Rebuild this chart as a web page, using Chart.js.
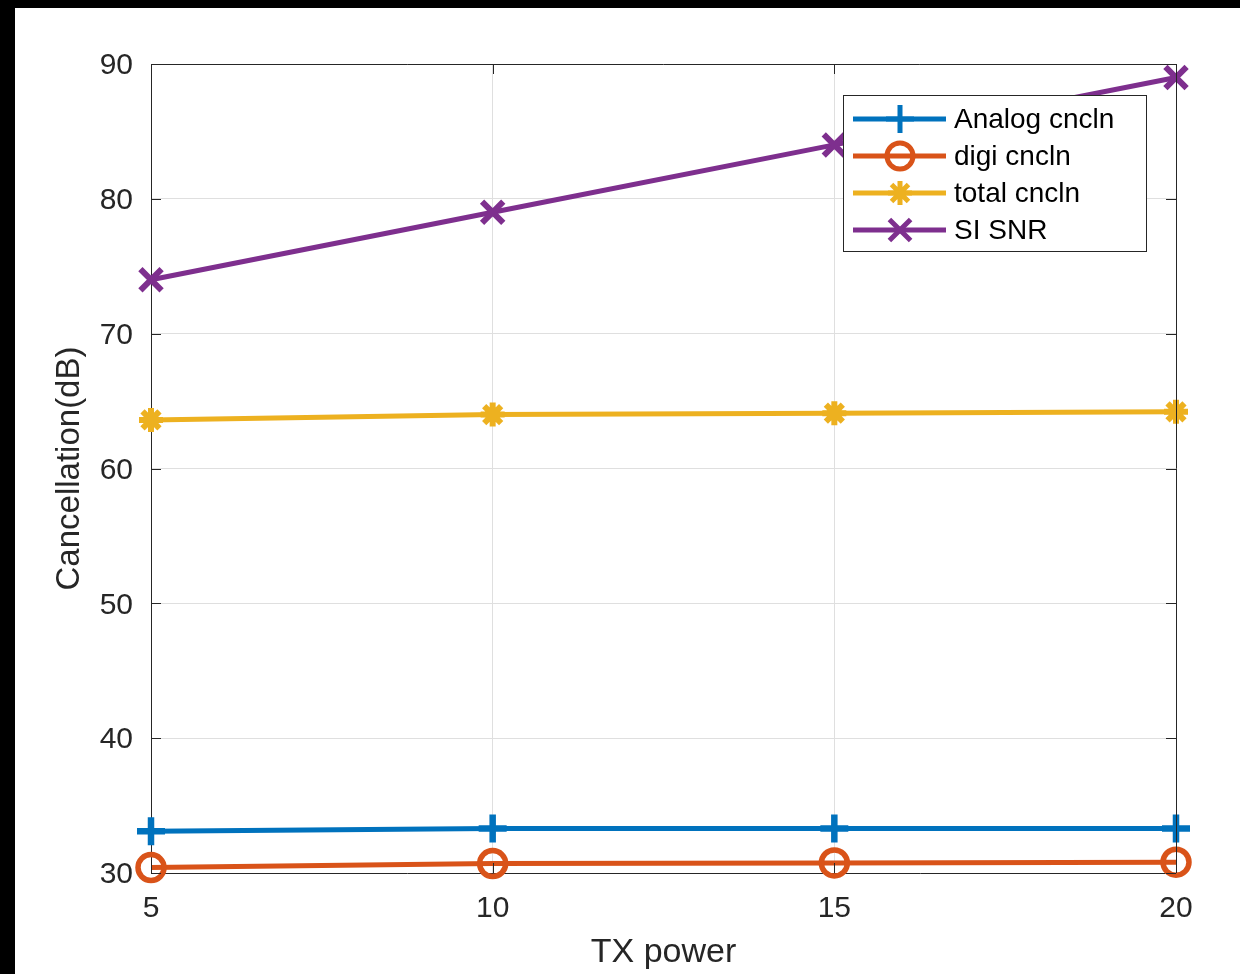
<!DOCTYPE html>
<html>
<head>
<meta charset="utf-8">
<script src="https://cdn.jsdelivr.net/npm/chart.js@4.4.1/dist/chart.umd.min.js"></script>
<style>
    html, body { margin: 0; padding: 0; background: #000; }
    #wrap { position: absolute; left: 15px; top: 8px; width: 1225px; height: 966px; background: #fff; }
</style>
</head>
<body>
<div id="wrap"><canvas id="cancelChart"></canvas></div>
<script>
// values
const txPower = [5, 10, 15, 20];
const analogCncln = [33.1, 33.3, 33.3, 33.3];
const digiCncln = [30.4, 30.7, 30.75, 30.8];
const totalCncln = [63.6, 64.0, 64.1, 64.2];
const siSnr = [74, 79, 84, 89];
const seriesNames = ['Analog cncln', 'digi cncln', 'total cncln', 'SI SNR'];
const yTicks = [30, 40, 50, 60, 70, 80, 90];

const axisColor = '#262626';
const fontFamily = '"Liberation Sans", Arial, Helvetica, sans-serif';

function toPoints(values) {
    return txPower.map((x, i) => ({ x: x, y: values[i] }));
}

function makeDataset(label, values, color, style, radius, markerWidth, order) {
    return {
        label: label,
        data: toPoints(values),
        borderColor: color,
        backgroundColor: color,
        borderWidth: 5,
        tension: 0,
        pointStyle: style,
        pointRadius: radius,
        pointHoverRadius: radius,
        pointBorderWidth: markerWidth,
        pointHoverBorderWidth: markerWidth,
        pointBorderColor: color,
        pointBackgroundColor: 'rgba(0,0,0,0)',
        clip: false,
        order: order
    };
}

// inward ticks on all four sides plus the top/right box
const boxTicks = {
    id: 'boxTicks',
    afterDraw(chart) {
        const { ctx, chartArea: a, scales } = chart;
        const len = 10;
        ctx.save();
        ctx.strokeStyle = axisColor;
        ctx.lineWidth = 1;
        ctx.beginPath();
        scales.x.ticks.forEach(t => {
            const px = Math.round(scales.x.getPixelForValue(t.value)) + 0.5;
            ctx.moveTo(px, a.bottom); ctx.lineTo(px, a.bottom - len);
            ctx.moveTo(px, a.top); ctx.lineTo(px, a.top + len);
        });
        scales.y.ticks.forEach(t => {
            const py = Math.round(scales.y.getPixelForValue(t.value)) + 0.5;
            ctx.moveTo(a.left, py); ctx.lineTo(a.left + len, py);
            ctx.moveTo(a.right, py); ctx.lineTo(a.right - len, py);
        });
        ctx.moveTo(a.left, a.top + 0.5); ctx.lineTo(a.right, a.top + 0.5);
        ctx.moveTo(a.right + 0.5, a.top); ctx.lineTo(a.right + 0.5, a.bottom);
        ctx.stroke();
        ctx.restore();
    }
};

// MATLAB-like legend box inside the axes, top right
const insideLegend = {
    id: 'insideLegend',
    afterDraw(chart) {
        const { ctx, chartArea: a } = chart;
        const boxW = 303, boxH = 156;
        const right = a.right - 30;
        const left = right - boxW;
        const top = a.top + 31;
        const rowH = 37;
        ctx.save();
        ctx.fillStyle = '#fff';
        ctx.fillRect(left, top, boxW, boxH);
        ctx.strokeStyle = axisColor;
        ctx.lineWidth = 1;
        ctx.strokeRect(left + 0.5, top + 0.5, boxW, boxH);
        ctx.font = '28px ' + fontFamily;
        ctx.textBaseline = 'middle';
        chart.data.datasets.forEach((ds, i) => {
            const y = top + 24 + i * rowH;
            ctx.strokeStyle = ds.borderColor;
            ctx.lineWidth = ds.borderWidth;
            ctx.beginPath();
            ctx.moveTo(left + 10, y);
            ctx.lineTo(left + 103, y);
            ctx.stroke();
            ctx.fillStyle = 'rgba(0,0,0,0)';
            Chart.helpers.drawPoint(ctx, {
                pointStyle: ds.pointStyle,
                radius: ds.pointRadius,
                borderWidth: ds.pointBorderWidth,
                rotation: 0
            }, left + 57, y);
            ctx.fillStyle = '#000';
            ctx.fillText(ds.label, left + 111, y + 1);
        });
        ctx.restore();
    }
};

const ctx = document.getElementById('cancelChart').getContext('2d');
new Chart(ctx, {
    type: 'line',
    data: {
        datasets: [
            makeDataset(seriesNames[0], analogCncln, '#0072BD', 'cross', 14, 6.5, 3),
            makeDataset(seriesNames[1], digiCncln, '#D95319', 'circle', 13, 5.5, 2),
            makeDataset(seriesNames[2], totalCncln, '#EDB120', 'star', 12, 6, 1),
            makeDataset(seriesNames[3], siSnr, '#7E2F8E', 'crossRot', 15, 6, 0)
        ]
    },
    options: {
        responsive: true,
        maintainAspectRatio: false,
        animation: false,
        layout: { padding: { left: 0, top: 56, right: 64, bottom: 0 } },
        scales: {
            x: {
                type: 'linear',
                min: 5,
                max: 20,
                afterBuildTicks: scale => { scale.ticks = txPower.map(v => ({ value: v })); },
                afterFit: scale => { scale.height = 101; },
                ticks: {
                    color: axisColor,
                    font: { family: fontFamily, size: 30 },
                    padding: 18,
                    maxRotation: 0
                },
                grid: { color: '#dfdfdf', lineWidth: 1, drawTicks: false },
                border: { color: axisColor, width: 1 },
                title: {
                    display: true,
                    text: 'TX power',
                    color: axisColor,
                    font: { family: fontFamily, size: 34 },
                    padding: { top: 0, bottom: 1 }
                }
            },
            y: {
                type: 'linear',
                min: 30,
                max: 90,
                afterBuildTicks: scale => { scale.ticks = yTicks.map(v => ({ value: v })); },
                afterFit: scale => { scale.width = 136; },
                ticks: {
                    color: axisColor,
                    font: { family: fontFamily, size: 30 },
                    padding: 18,
                    labelOffset: 2
                },
                grid: { color: '#dfdfdf', lineWidth: 1, drawTicks: false },
                border: { color: axisColor, width: 1 },
                title: {
                    display: true,
                    text: 'Cancellation(dB)',
                    color: axisColor,
                    font: { family: fontFamily, size: 33 },
                    padding: { top: 35, bottom: 0 }
                }
            }
        },
        plugins: {
            legend: { display: false },
            tooltip: { enabled: false }
        }
    },
    plugins: [boxTicks, insideLegend]
});
</script>
</body>
</html>
